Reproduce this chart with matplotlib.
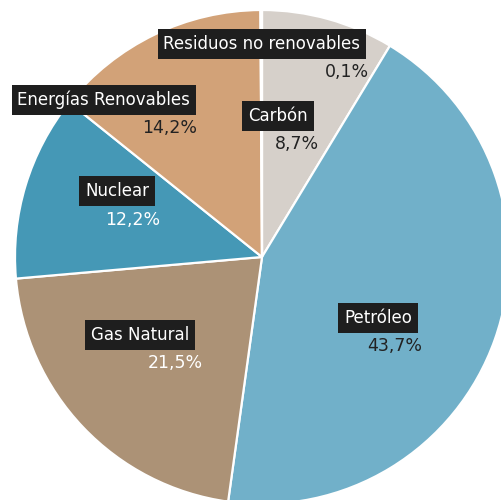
import matplotlib
matplotlib.use('Agg')
import matplotlib.pyplot as plt

# data, clockwise from the top
labels = ['Carbón', 'Petróleo', 'Gas Natural', 'Nuclear', 'Energías Renovables', 'Residuos no renovables']
values = [8.7, 43.7, 21.5, 12.2, 14.2, 0.1]
pct_text = ['8,7%', '43,7%', '21,5%', '12,2%', '14,2%', '0,1%']
colors = ['#d6d0ca', '#71b0c9', '#ac9276', '#4598b6', '#d2a278', '#c0392b']
pct_colors = ['#222222', '#222222', 'white', 'white', '#222222', '#222222']

# label box centre and percentage position (axes units, pie radius = 1)
label_pos = [(0.065, 0.571), (0.470, -0.247), (-0.494, -0.316), (-0.587, 0.267), (-0.640, 0.636), (0.0, 0.862)]
pct_pos = [(0.142, 0.457), (0.538, -0.360), (-0.352, -0.429), (-0.522, 0.150), (-0.372, 0.522), (0.344, 0.749)]

fig = plt.figure(figsize=(5.02, 5.0), dpi=100)
ax = fig.add_axes([0, 0, 1, 1])
ax.pie(values, colors=colors, startangle=90, counterclock=False, radius=1,
       wedgeprops=dict(edgecolor='white', linewidth=1.6))
ax.set_aspect('auto')
ax.set_xlim(-262 / 247, 240 / 247)
ax.set_ylim(-243 / 247, 257 / 247)
ax.axis('off')

for i in range(len(labels)):
    x, y = label_pos[i]
    ax.text(x, y, labels[i], ha='center', va='center', color='white', fontsize=12,
            bbox=dict(boxstyle='square,pad=0.35', facecolor='#1e1e1e', edgecolor='none'))
    px, py = pct_pos[i]
    ax.text(px, py, pct_text[i], ha='center', va='center', color=pct_colors[i], fontsize=12.5)

fig.savefig('out.png', dpi=100)
